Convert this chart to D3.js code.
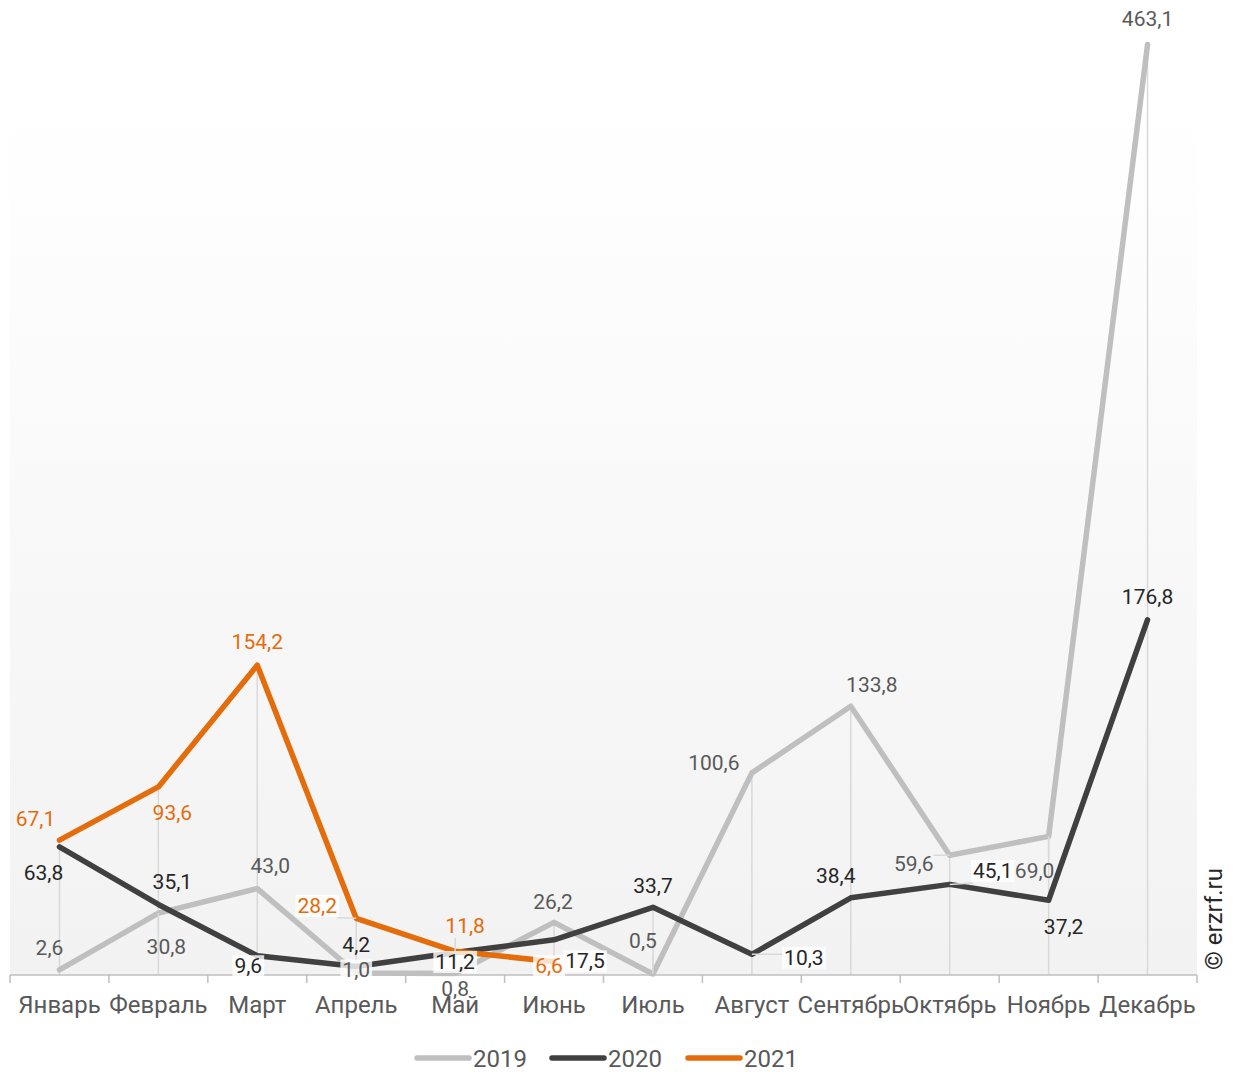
<!DOCTYPE html>
<html>
<head>
<meta charset="utf-8">
<script src="https://cdn.jsdelivr.net/npm/d3@7"></script>
<style>
  html, body { margin: 0; padding: 0; background: #fff; }
  svg { display: block; font-family: Roboto, "Noto Sans", sans-serif; }
</style>
</head>
<body>
<svg id="chart" width="1240" height="1072"></svg>
<script>
// ---- data ----
const months = ["Январь","Февраль","Март","Апрель","Май","Июнь","Июль","Август","Сентябрь","Октябрь","Ноябрь","Декабрь"];
const years = ["2019","2020","2021"];
const values2019 = [2.6, 30.8, 43.0, 1.0, 0.8, 26.2, 0.5, 100.6, 133.8, 59.6, 69.0, 463.1];
const values2020 = [63.8, 35.1, 9.6, 4.2, 11.2, 17.5, 33.7, 10.3, 38.4, 45.1, 37.2, 176.8];
const values2021 = [67.1, 93.6, 154.2, 28.2, 11.8, 6.6];

// ---- label layout (offsets from point, px) ----
const labelLayout2019 = [[-10,-22],[8,33,"L"],[13,-23],[0,-3,"B"],[0,15],[-1,-21],[-10,-33,"L"],[-38,-10],[21,-22],[-36,8,"L"],[-14,34,"L"],[0,-26]];
const labelLayout2020 = [[-16,26],[14,-23],[-9,10,"B"],[0,-22],[0,9,"B"],[31,21,"B"],[0,-22],[52,3,"BL"],[-15,-22],[43,-14,"BL"],[15,26],[0,-23]];
const labelLayout2021 = [[-24,-22],[14,26],[0,-24],[-39,-13,"BL"],[10,-26,"L"],[-5,4,"B"]];

const series = [
  {name: years[0], values: values2019, layout: labelLayout2019, color: "#bfbfbf", labelColor: "#595959"},
  {name: years[1], values: values2020, layout: labelLayout2020, color: "#404040", labelColor: "#262626"},
  {name: years[2], values: values2021, layout: labelLayout2021, color: "#e46c0a", labelColor: "#e46c0a"}
];

const svg = d3.select("#chart");
const pLeft = 10, pRight = 1197, pTop = 101, pBottom = 975;

const x = d3.scaleBand().domain(months).range([pLeft, pRight]).padding(0);
const y = d3.scaleLinear().domain([0, 435]).range([pBottom, pTop]);
const cx = m => x(m) + x.bandwidth() / 2;

// background gradient
const defs = svg.append("defs");
const grad = defs.append("linearGradient").attr("id", "bg").attr("x1", 0).attr("y1", 0).attr("x2", 0).attr("y2", 1);
grad.append("stop").attr("offset", "0%").attr("stop-color", "#ffffff");
grad.append("stop").attr("offset", "100%").attr("stop-color", "#f2f2f2");
svg.append("rect").attr("x", pLeft).attr("y", pTop).attr("width", pRight - pLeft).attr("height", pBottom - pTop).attr("fill", "url(#bg)");

// drop lines
months.forEach((m, i) => {
  const vals = series.map(s => s.values[i]).filter(v => v !== undefined);
  const mx = d3.max(vals);
  svg.append("line")
    .attr("x1", cx(m)).attr("x2", cx(m))
    .attr("y1", y(mx)).attr("y2", pBottom)
    .attr("stroke", "#d9d9d9").attr("stroke-width", 1.5);
});

// axis
const axis = d3.axisBottom(x).tickSize(0).tickPadding(21);
const gAxis = svg.append("g").attr("transform", `translate(0,${pBottom})`).call(axis);
gAxis.select(".domain").remove();
gAxis.selectAll("text").attr("font-size", 24).attr("fill", "#595959").attr("font-family", "Roboto, sans-serif");
svg.append("line").attr("x1", pLeft).attr("x2", pRight).attr("y1", pBottom).attr("y2", pBottom)
  .attr("stroke", "#bfbfbf").attr("stroke-width", 1.5);
const bounds = months.map(m => x(m)).concat([pRight]);
svg.selectAll(".tk").data(bounds).enter().append("line")
  .attr("x1", d => d).attr("x2", d => d).attr("y1", pBottom).attr("y2", pBottom + 8)
  .attr("stroke", "#bfbfbf").attr("stroke-width", 1.5);

// lines
const line = d3.line().x((d, i) => cx(months[i])).y(d => y(d));
series.forEach(s => {
  svg.append("path").datum(s.values)
    .attr("d", line)
    .attr("fill", "none")
    .attr("stroke", s.color)
    .attr("stroke-width", 5.5)
    .attr("stroke-linejoin", "round")
    .attr("stroke-linecap", "round");
});

// labels
const fmt = v => v.toFixed(1).replace(".", ",");
const gLab = svg.append("g");
series.forEach(s => {
  s.values.forEach((v, i) => {
    const px = cx(months[i]), py = y(v);
    const [dx, dy, flags = ""] = s.layout[i];
    const lx = px + dx, ly = py + dy;
    const t = gLab.append("text")
      .attr("x", lx).attr("y", ly + 7.5)
      .attr("text-anchor", "middle")
      .attr("font-size", 21)
      .attr("fill", s.labelColor)
      .text(fmt(v));
    const bb = t.node().getBBox();
    if (flags.includes("L")) {
      const ex = Math.max(bb.x, Math.min(px, bb.x + bb.width));
      const ey = Math.max(bb.y, Math.min(py, bb.y + bb.height));
      gLab.insert("line", "text")
        .attr("x1", ex).attr("y1", ey).attr("x2", px).attr("y2", py)
        .attr("stroke", "#d9d9d9").attr("stroke-width", 1.5);
    }
    if (flags.includes("B")) {
      gLab.append("rect")
        .attr("x", bb.x - 2).attr("y", bb.y + 1).attr("width", bb.width + 4).attr("height", bb.height - 2)
        .attr("fill", "#ffffff").attr("fill-opacity", 0.8);
      t.raise();
    }
  });
});

// legend
const legendX = [415, 550, 686];
series.forEach((s, i) => {
  const g = svg.append("g").attr("transform", `translate(${legendX[i]},1058)`);
  g.append("line").attr("x1", 2).attr("x2", 54).attr("y1", 0).attr("y2", 0)
    .attr("stroke", s.color).attr("stroke-width", 5.5).attr("stroke-linecap", "round");
  g.append("text").attr("x", 58).attr("y", 9).attr("font-size", 24).attr("fill", "#595959").text(s.name);
});

// copyright
svg.append("text")
  .attr("transform", "translate(1222,919) rotate(-90)")
  .attr("text-anchor", "middle")
  .attr("font-size", 24)
  .attr("fill", "#262626")
  .text("© erzrf.ru");
</script>
</body>
</html>
